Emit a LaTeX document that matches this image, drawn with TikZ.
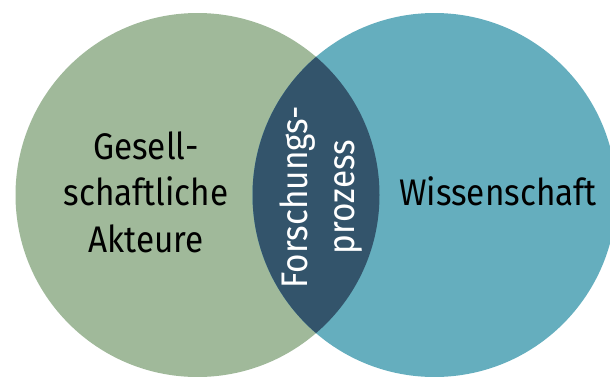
\documentclass[tikz,border=0pt]{standalone}
\usepackage{fontspec}
\setmainfont[FakeStretch=0.9]{Fira Sans}
\definecolor{gesgreen}{RGB}{160,185,154}
\definecolor{wisteal}{RGB}{101,174,190}
\definecolor{lensblue}{RGB}{51,84,107}
\begin{document}
\begin{tikzpicture}[x=1pt,y=-1pt,
    label/.style={font=\fontsize{37}{46.5}\selectfont,align=center,inner sep=0pt}]
		\useasboundingbox (0,0) rectangle (610,376);
		% the two sets
		\fill[gesgreen] (197.5,195) circle (182);
		\fill[wisteal] (434.5,195) circle (182);
		% the overlap
		\begin{scope}
		    \clip (197.5,195) circle (182);
		    \fill[lensblue] (434.5,195) circle (182);
		\end{scope}

		\node[label] (ges) at (146,192) {Gesell-\\schaftliche\\Akteure};
		\node[label] (wis) at (498,191) {Wissenschaft};
		\node[label,white,rotate=90] (fp) at (321,197) {Forschungs-\\prozess};
\end{tikzpicture}
\end{document}
